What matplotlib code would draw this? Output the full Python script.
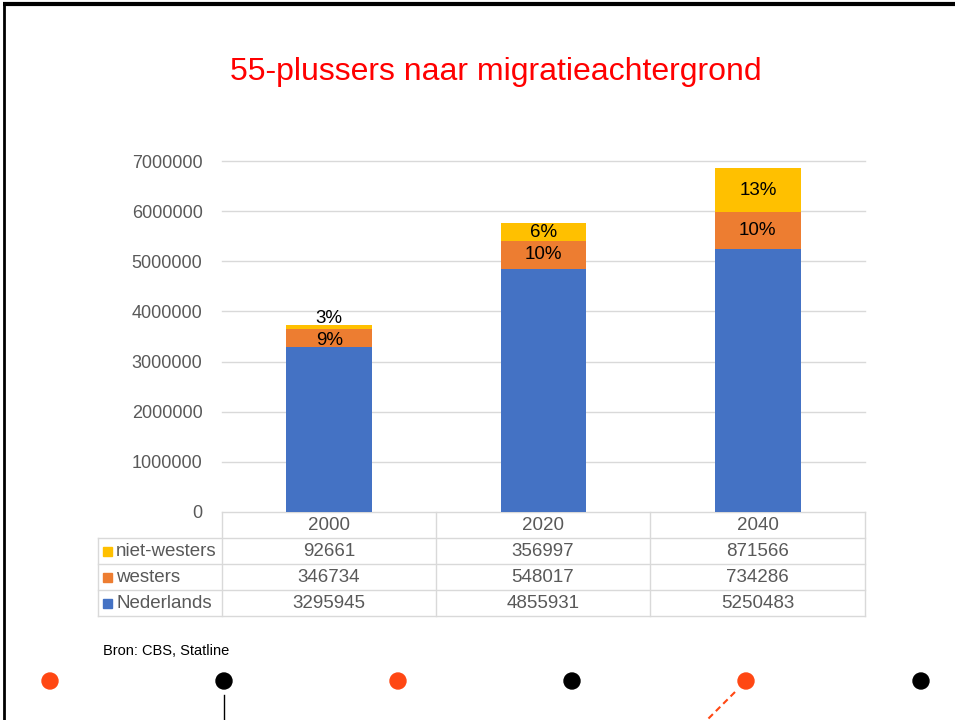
import matplotlib.pyplot as plt
import numpy as np

plt.rcParams['font.family'] = ['Liberation Sans', 'DejaVu Sans']

# data
jaren = ["2000", "2020", "2040"]
series = ["niet-westers", "westers", "Nederlands"]
nederlands = [3295945, 4855931, 5250483]
westers = [346734, 548017, 734286]
niet_westers = [92661, 356997, 871566]
pct_westers = ["9%", "10%", "10%"]
pct_niet_westers = ["3%", "6%", "13%"]
y_ticks = [0, 1000000, 2000000, 3000000, 4000000, 5000000, 6000000, 7000000]

blauw = "#4472C4"
oranje = "#ED7D31"
geel = "#FFC000"
grijs = "#595959"
rood_dot = "#FF4713"
fs = 13.5

W, H = 955, 720
fig = plt.figure(figsize=(W / 100, H / 100), dpi=100)

# overlay in pixel coords
ov = fig.add_axes([0, 0, 1, 1])
ov.set_xlim(0, W)
ov.set_ylim(H, 0)
ov.axis("off")

# chart axes
x0, x1, ytop, ybot = 222, 865, 161, 512
ax = fig.add_axes([x0 / W, 1 - ybot / H, (x1 - x0) / W, (ybot - ytop) / H])
ax.set_xlim(-0.5, 2.5)
ax.set_ylim(0, 7000000)
for s in ax.spines.values():
    s.set_visible(False)
for t in y_ticks[1:]:
    ax.axhline(t, color="#D9D9D9", lw=1, zorder=0, clip_on=False)
ax.set_xticks([])
ax.set_yticks(y_ticks)
ax.set_yticklabels([str(t) for t in y_ticks], fontsize=13, color=grijs)
ax.tick_params(axis="y", length=0, pad=14)
ax.patch.set_alpha(0)

x = np.arange(len(jaren))
bw = 0.4
ax.bar(x, nederlands, bw, color=blauw, zorder=2)
ax.bar(x, westers, bw, bottom=nederlands, color=oranje, zorder=2)
bottom3 = np.array(nederlands) + np.array(westers)
ax.bar(x, niet_westers, bw, bottom=bottom3, color=geel, zorder=2)
for i in x:
    ax.text(i, nederlands[i] + westers[i] / 2 - (40000 if i == 0 else 0), pct_westers[i],
            ha="center", va="center", fontsize=fs, color="black", zorder=3)
    ax.text(i, bottom3[i] + niet_westers[i] / 2 + (160000 if i == 0 else 0), pct_niet_westers[i],
            ha="center", va="center", fontsize=fs, color="black", zorder=3)

# title
ov.text(496, 72, "55-plussers naar migratieachtergrond", ha="center", va="center",
        fontsize=23, color="#FF0000")

# data table
rows = [("niet-westers", geel, niet_westers), ("westers", oranje, westers),
        ("Nederlands", blauw, nederlands)]
col_edges = [x0, 436, 650, x1]
row_edges = [512, 538, 564, 590, 616]
lc = "#D9D9D9"
lab_left = 98
ov.plot([x0, x1], [row_edges[0], row_edges[0]], color=lc, lw=1)
for j, yr in enumerate(jaren):
    ov.text((col_edges[j] + col_edges[j + 1]) / 2, 525, yr, ha="center", va="center",
            fontsize=fs, color=grijs)
for r in range(1, 5):
    ov.plot([lab_left, x1], [row_edges[r], row_edges[r]], color=lc, lw=1)
for cx in col_edges:
    ov.plot([cx, cx], [row_edges[0], row_edges[-1]], color=lc, lw=1)
ov.plot([lab_left, lab_left], [row_edges[1], row_edges[-1]], color=lc, lw=1)
for r, (naam, kleur, vals) in enumerate(rows):
    yc = (row_edges[r + 1] + row_edges[r + 2]) / 2
    ov.add_patch(plt.Rectangle((103, yc - 4), 9, 9, color=kleur))
    ov.text(116, yc, naam, ha="left", va="center", fontsize=fs, color=grijs)
    for j in range(3):
        ov.text((col_edges[j] + col_edges[j + 1]) / 2, yc, str(vals[j]), ha="center",
                va="center", fontsize=fs, color=grijs)

# bron
ov.text(103, 651, "Bron: CBS, Statline", ha="left", va="center", fontsize=10.5, color="black")

# decoration: frame + dots
ov.plot([3, W], [4, 4], color="black", lw=3, solid_capstyle="butt")
ov.plot([4, 4], [3, H], color="black", lw=2, solid_capstyle="butt")
dot_x = [50, 224, 398, 572, 746, 921]
dot_c = [rood_dot, "black", rood_dot, "black", rood_dot, "black"]
for dx, dc in zip(dot_x, dot_c):
    ov.add_patch(plt.Circle((dx, 681), 8, color=dc))
ov.plot([224, 224], [695, H], color="black", lw=1)
ov.plot([735, 707], [692, H], color=rood_dot, lw=1.5, ls=(0, (3, 2)))

fig.savefig("out.png", dpi=100)
